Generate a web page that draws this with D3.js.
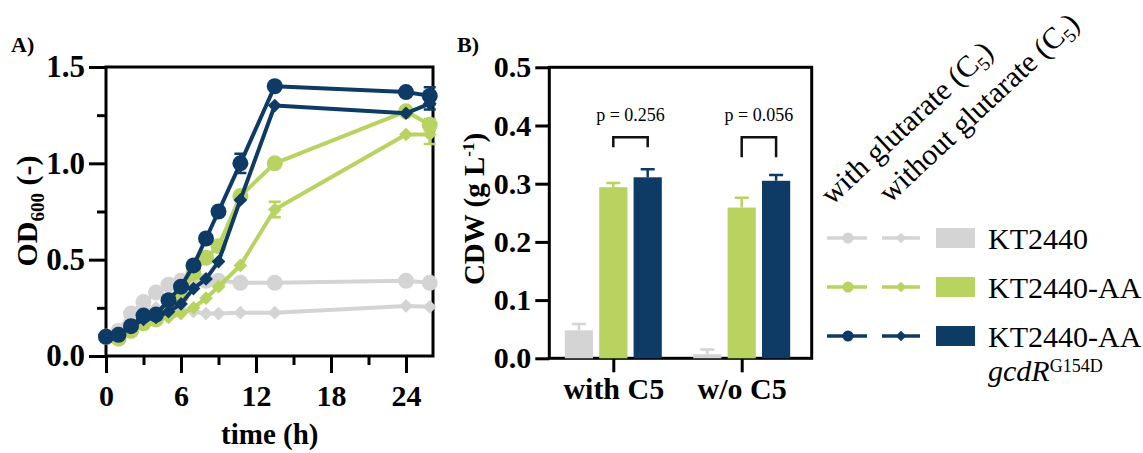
<!DOCTYPE html>
<html>
<head>
<meta charset="utf-8">
<script src="https://cdn.jsdelivr.net/npm/d3@7"></script>
<style>
  html, body { margin: 0; padding: 0; background: #fff; }
  svg { display: block; }
</style>
</head>
<body>
<div id="chart"></div>
<script>
// growth curves (panel A), sampling times in h
const times = [0, 1, 2, 3, 4, 5, 6, 7, 8, 9, 10.75, 13.5, 24, 25.9];
const wtWith      = [0.10, 0.13, 0.22, 0.28, 0.33, 0.37, 0.39, 0.39, 0.39, 0.39, 0.38, 0.38, 0.39, 0.38];
const wtWithout   = [0.10, 0.13, 0.22, 0.24, 0.25, 0.24, 0.24, 0.23, 0.22, 0.22, 0.225, 0.225, 0.26, 0.255];
const aaWith      = [0.10, 0.09, 0.13, 0.17, 0.19, 0.24, 0.31, 0.43, 0.51, 0.57, 0.83, 1.00, 1.27, 1.20];
const aaWithout   = [0.10, 0.10, 0.13, 0.17, 0.19, 0.20, 0.22, 0.25, 0.30, 0.36, 0.47, 0.76, 1.15, 1.15];
const gcdWith     = [0.10, 0.11, 0.155, 0.21, 0.215, 0.29, 0.36, 0.47, 0.61, 0.75, 1.00, 1.40, 1.37, 1.35];
const gcdWithout  = [0.10, 0.11, 0.15, 0.19, 0.20, 0.23, 0.27, 0.35, 0.40, 0.49, 0.81, 1.30, 1.26, 1.31];
// standard deviations (only visible ones)
const gcdWithErr    = [0, 0, 0, 0, 0, 0, 0, 0, 0, 0, 0.05, 0, 0, 0.045];
const aaWithoutErr  = [0, 0, 0, 0, 0, 0, 0, 0, 0, 0, 0, 0.04, 0, 0.05];
const aaWithErr     = [0, 0, 0, 0, 0, 0, 0, 0, 0, 0, 0, 0, 0, 0.03];
const gcdWithoutErr = [0, 0, 0, 0, 0, 0, 0, 0, 0, 0, 0, 0, 0, 0.03];

const xTicksA = [0, 6, 12, 18, 24];
const xMinorA = [3, 9, 15, 21];
const yTicksA = [0, 0.5, 1.0, 1.5];
const yMinorA = [0.25, 0.75, 1.25];

// cell dry weight (panel B)
const groups = ['with C5', 'w/o C5'];
const strains = ['KT2440', 'KT2440-AA', 'KT2440-AA gcdR'];
const cdwWith = [0.048, 0.294, 0.311];
const cdwWithErr = [0.011, 0.007, 0.014];
const cdwWithout = [0.007, 0.259, 0.305];
const cdwWithoutErr = [0.008, 0.017, 0.010];
const pValues = ['p = 0.256', 'p = 0.056'];
const yTicksB = [0, 0.1, 0.2, 0.3, 0.4, 0.5];

const colors = ['#d4d4d4', '#b8d35f', '#0d3b66'];
const serif = '"Liberation Serif", "Times New Roman", serif';

const width = 1143, height = 453;
const svg = d3.select('#chart').append('svg')
    .attr('width', width)
    .attr('height', height)
    .attr('font-family', serif);

// ---------- panel A ----------
const xA = d3.scaleLinear().domain([0, 26.16]).range([106, 433]);
const yA = d3.scaleLinear().domain([0, 1.5]).range([356, 67]);

const series = [
    { values: wtWithout, err: null, color: colors[0], shape: 'diamond' },
    { values: wtWith, err: null, color: colors[0], shape: 'circle' },
    { values: aaWithout, err: aaWithoutErr, color: colors[1], shape: 'diamond' },
    { values: aaWith, err: aaWithErr, color: colors[1], shape: 'circle' },
    { values: gcdWithout, err: gcdWithoutErr, color: colors[2], shape: 'diamond' },
    { values: gcdWith, err: gcdWithErr, color: colors[2], shape: 'circle' },
];

function styleAxis(g, size) {
    g.attr('font-family', serif)
     .attr('font-size', size)
     .attr('font-weight', 'bold');
    g.select('.domain').remove();
    g.selectAll('.tick line').attr('stroke', '#000').attr('stroke-width', 3);
    g.selectAll('.tick text').attr('fill', '#000');
}

const gA = svg.append('g');

gA.append('g')
    .attr('transform', `translate(0,${yA(0)})`)
    .call(d3.axisBottom(xA).tickValues(xTicksA).tickSize(17).tickPadding(12))
    .call(g => styleAxis(g, 30));
gA.append('g')
    .attr('transform', `translate(0,${yA(0)})`)
    .call(d3.axisBottom(xA).tickValues(xMinorA).tickSize(9).tickFormat(''))
    .call(g => styleAxis(g, 30));
gA.append('g')
    .attr('transform', `translate(${xA(0)},0)`)
    .call(d3.axisLeft(yA).tickValues(yTicksA).tickSize(17).tickPadding(4).tickFormat(d3.format('.1f')))
    .call(g => styleAxis(g, 31));
gA.append('g')
    .attr('transform', `translate(${xA(0)},0)`)
    .call(d3.axisLeft(yA).tickValues(yMinorA).tickSize(9).tickFormat(''))
    .call(g => styleAxis(g, 31));

gA.append('rect')
    .attr('x', xA(0)).attr('y', yA(1.5))
    .attr('width', xA(26.16) - xA(0)).attr('height', yA(0) - yA(1.5))
    .attr('fill', 'none').attr('stroke', '#000').attr('stroke-width', 3);

const line = d3.line()
    .x((d, i) => xA(times[i]))
    .y(d => yA(d));

const diamond = d3.symbol().type(d3.symbolDiamond2).size(120);

series.forEach(s => {
    const g = gA.append('g');
    g.append('path')
        .attr('d', line(s.values))
        .attr('fill', 'none')
        .attr('stroke', s.color)
        .attr('stroke-width', 4)
        .attr('stroke-linejoin', 'round');
    if (s.err) {
        s.values.forEach((v, i) => {
            const e = s.err[i];
            if (!e) return;
            const x = xA(times[i]);
            g.append('path')
                .attr('d', `M${x},${yA(v - e)}V${yA(v + e)}M${x - 6},${yA(v - e)}h12M${x - 6},${yA(v + e)}h12`)
                .attr('stroke', s.color)
                .attr('stroke-width', 2.5)
                .attr('fill', 'none');
        });
    }
    if (s.shape === 'circle') {
        g.selectAll('circle')
            .data(s.values)
            .join('circle')
            .attr('cx', (d, i) => xA(times[i]))
            .attr('cy', d => yA(d))
            .attr('r', 8)
            .attr('fill', s.color);
    } else {
        g.selectAll('path.m')
            .data(s.values)
            .join('path')
            .attr('class', 'm')
            .attr('transform', (d, i) => `translate(${xA(times[i])},${yA(d)})`)
            .attr('d', diamond)
            .attr('fill', s.color);
    }
});

gA.append('text')
    .attr('x', 11).attr('y', 52)
    .attr('font-size', 22).attr('font-weight', 'bold')
    .text('A)');

gA.append('text')
    .attr('x', xA(13.1)).attr('y', 444)
    .attr('text-anchor', 'middle')
    .attr('font-size', 29).attr('font-weight', 'bold')
    .text('time (h)');

const odLabel = gA.append('text')
    .attr('transform', 'translate(37,211) rotate(-90)')
    .attr('text-anchor', 'middle')
    .attr('font-size', 30).attr('font-weight', 'bold');
odLabel.append('tspan').text('OD');
odLabel.append('tspan').attr('font-size', 19).attr('dy', 7).text('600');
odLabel.append('tspan').attr('dy', -7).text(' (-)');

// ---------- panel B ----------
const xB = d3.scalePoint().domain(groups).range([613.3, 741.7]);
const xSub = d3.scaleBand().domain(strains).range([-48.5, 48.5]).paddingInner(0.18);
const yB = d3.scaleLinear().domain([0, 0.5]).range([358.3, 67.3]);

const gB = svg.append('g');

gB.append('g')
    .attr('transform', `translate(0,${yB(0)})`)
    .call(d3.axisBottom(xB).tickSize(14).tickPadding(5))
    .call(g => styleAxis(g, 30));
gB.append('g')
    .attr('transform', `translate(549.3,0)`)
    .call(d3.axisLeft(yB).tickValues(yTicksB).tickSize(14).tickPadding(4).tickFormat(d3.format('.1f')))
    .call(g => styleAxis(g, 30));

gB.append('rect')
    .attr('x', 549.3).attr('y', yB(0.5))
    .attr('width', 811.7 - 549.3).attr('height', yB(0) - yB(0.5))
    .attr('fill', 'none').attr('stroke', '#000').attr('stroke-width', 3);

const barData = [
    { group: groups[0], values: cdwWith, err: cdwWithErr },
    { group: groups[1], values: cdwWithout, err: cdwWithoutErr },
];

barData.forEach((bd, gi) => {
    const g = gB.append('g').attr('transform', `translate(${xB(bd.group)},0)`);
    strains.forEach((s, i) => {
        const x = xSub(s), w = xSub.bandwidth();
        const v = bd.values[i], e = bd.err[i];
        const cx = x + w / 2;
        g.append('path')
            .attr('d', `M${cx},${yB(v)}V${yB(v + e)}M${cx - 7},${yB(v + e)}h14`)
            .attr('stroke', colors[i])
            .attr('stroke-width', 2.5)
            .attr('fill', 'none');
        g.append('rect')
            .attr('x', x)
            .attr('y', yB(v))
            .attr('width', w)
            .attr('height', yB(0) - yB(v))
            .attr('fill', colors[i]);
    });
    // significance bracket between the two engineered strains
    const x1 = xSub(strains[1]) + xSub.bandwidth() / 2;
    const x2 = xSub(strains[2]) + xSub.bandwidth() / 2;
    const top = yB(0.38);
    const leg = gi === 0 ? 10 : 20;
    g.append('path')
        .attr('d', `M${x1},${top + leg}V${top}H${x2}V${top + leg}`)
        .attr('fill', 'none')
        .attr('stroke', '#111')
        .attr('stroke-width', 2.5);
    g.append('text')
        .attr('x', (x1 + x2) / 2)
        .attr('y', yB(0.408))
        .attr('text-anchor', 'middle')
        .attr('font-size', 18)
        .text(pValues[gi]);
});

gB.append('text')
    .attr('x', 457).attr('y', 52)
    .attr('font-size', 22).attr('font-weight', 'bold')
    .text('B)');

const cdwLabel = gB.append('text')
    .attr('transform', 'translate(484,209) rotate(-90)')
    .attr('text-anchor', 'middle')
    .attr('font-size', 29).attr('font-weight', 'bold');
cdwLabel.append('tspan').text('CDW (g L');
cdwLabel.append('tspan').attr('font-size', 17).attr('dy', -10).text('-1');
cdwLabel.append('tspan').attr('dy', 10).text(')');

// ---------- legend ----------
const legend = svg.append('g');
const conditions = ['with glutarate (C', 'without glutarate (C'];
const condPos = [[832, 206], [890, 204]];
conditions.forEach((c, i) => {
    const t = legend.append('text')
        .attr('transform', `translate(${condPos[i][0]},${condPos[i][1]}) rotate(-43)`)
        .attr('font-size', 30);
    t.append('tspan').text(c);
    t.append('tspan').attr('font-size', 19).attr('dy', 6).text('5');
    t.append('tspan').attr('dy', -6).text(')');
});

const rowY = [238, 287, 336];
strains.forEach((s, i) => {
    const row = legend.append('g').attr('transform', `translate(0,${rowY[i]})`);
    row.append('line').attr('x1', 827).attr('x2', 867).attr('stroke', colors[i]).attr('stroke-width', 3.5);
    row.append('circle').attr('cx', 848).attr('r', 5.5).attr('fill', colors[i]);
    row.append('line').attr('x1', 882).attr('x2', 920).attr('stroke', colors[i]).attr('stroke-width', 3.5);
    row.append('path').attr('transform', 'translate(901,0)').attr('d', d3.symbol().type(d3.symbolDiamond2).size(70)).attr('fill', colors[i]);
    row.append('rect').attr('x', 936).attr('y', -10).attr('width', 39).attr('height', 20).attr('fill', colors[i]);
    const name = s === 'KT2440-AA gcdR' ? 'KT2440-AA' : s;
    row.append('text').attr('x', 988).attr('y', 11).attr('font-size', 30).text(name);
});
const gcd = legend.append('text').attr('x', 988).attr('y', 381).attr('font-size', 30);
gcd.append('tspan').attr('font-style', 'italic').text('gcdR');
gcd.append('tspan').attr('font-size', 18).attr('dy', -9).text('G154D');
</script>
</body>
</html>
